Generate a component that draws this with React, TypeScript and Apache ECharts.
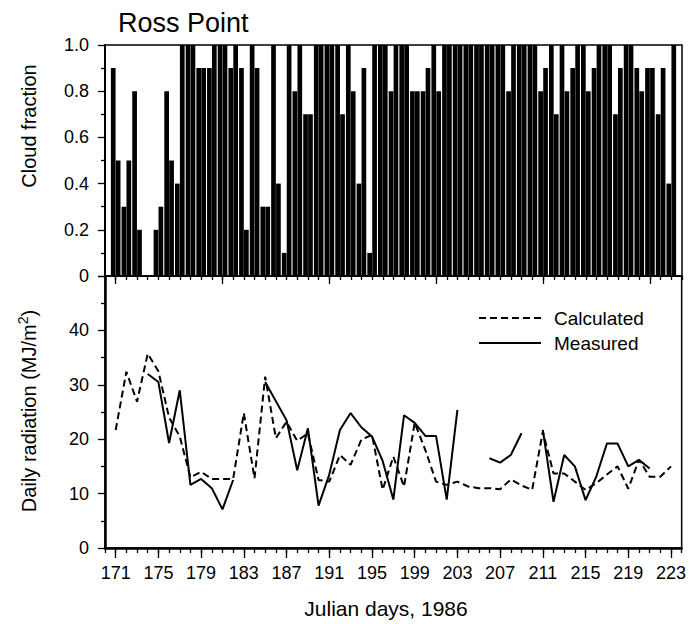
import React, { useEffect, useRef } from 'react';
import * as echarts from 'echarts';

// Julian days shown (one entry per day)
const days = [
  171, 172, 173, 174, 175, 176, 177, 178, 179, 180,
  181, 182, 183, 184, 185, 186, 187, 188, 189, 190,
  191, 192, 193, 194, 195, 196, 197, 198, 199, 200,
  201, 202, 203, 204, 205, 206, 207, 208, 209, 210,
  211, 212, 213, 214, 215, 216, 217, 218, 219, 220,
  221, 222, 223,
];

// Cloud fraction: two observations per day (first half, second half)
const cloudFirst = [
  0.9, 0.3, 0.8, 0.0, 0.2, 0.8, 0.4, 1.0, 0.9, 0.9,
  1.0, 0.9, 0.9, 1.0, 0.3, 1.0, 0.1, 0.8, 0.7, 1.0,
  1.0, 1.0, 1.0, 0.4, 0.1, 1.0, 0.8, 1.0, 0.8, 0.8,
  1.0, 1.0, 1.0, 1.0, 1.0, 1.0, 1.0, 0.8, 1.0, 1.0,
  0.8, 1.0, 1.0, 0.9, 1.0, 0.9, 1.0, 0.7, 1.0, 0.9,
  0.9, 0.7, 0.4,
];
const cloudSecond = [
  0.5, 0.5, 0.2, 0.0, 0.3, 0.5, 1.0, 1.0, 0.9, 1.0,
  1.0, 1.0, 0.2, 0.9, 0.3, 0.4, 1.0, 1.0, 0.7, 1.0,
  1.0, 0.7, 0.8, 0.9, 1.0, 1.0, 1.0, 1.0, 0.8, 0.9,
  0.8, 1.0, 1.0, 1.0, 1.0, 1.0, 1.0, 1.0, 1.0, 1.0,
  0.9, 0.7, 0.8, 1.0, 0.8, 1.0, 1.0, 0.9, 1.0, 0.8,
  0.9, 0.9, 1.0,
];

// Daily radiation (MJ/m2)
const calculated = [
  21.7, 32.4, 26.9, 35.7, 32.5, 24.0, 20.5, 13.0, 14.0, 12.7,
  12.7, 12.7, 24.8, 12.8, 31.5, 20.2, 23.2, 19.7, 21.1, 12.5,
  12.2, 17.1, 15.3, 19.9, 20.8, 10.7, 16.8, 11.3, 23.0, 18.0,
  12.2, 11.6, 12.2, 11.3, 11.0, 11.0, 10.8, 12.6, 11.5, 10.7,
  21.4, 13.7, 13.7, 12.2, 10.7, 11.9, 13.5, 15.0, 10.9, 16.2,
  13.1, 13.1, 15.0,
];
const measured: (number | null)[] = [
  null, null, null, 32.0, 30.5, 19.3, 29.0, 11.6, 12.7, 11.0,
  7.1, 12.5, null, null, 30.5, 27.0, 23.5, 14.3, 22.0, 7.8,
  13.5, 21.7, 24.8, 22.2, 20.5, 16.0, 8.9, 24.4, 23.0, 20.6,
  20.6, 8.9, 25.4, null, null, 16.5, 15.7, 17.1, 21.1, null,
  21.7, 8.5, 17.1, 15.0, 8.8, 13.1, 19.2, 19.2, 15.0, 16.2,
  14.6, null, null,
];

// Tick positions
const bottomTickDays = [171, 175, 179, 183, 187, 191, 195, 199, 203, 207, 211, 215, 219, 223];
const topMajorTickDays = [171, 181, 191, 201, 211, 221];

const FONT = '"Liberation Sans", Arial, Helvetica, sans-serif';

export default function App() {
  const ref = useRef<HTMLDivElement>(null);

  useEffect(() => {
    if (!ref.current) return;
    const chart = echarts.init(ref.current, undefined, { renderer: 'svg' });

    const barData: number[][] = [];
    days.forEach((d, i) => {
      barData.push([d - 0.23, cloudFirst[i]]);
      barData.push([d + 0.23, cloudSecond[i]]);
    });
    const calcData = days.map((d, i) => [d, calculated[i]]);
    const measData = days.map((d, i) => [d, measured[i] === null ? '-' : measured[i]]);

    const tickLine = { color: '#000', width: 1.3 };
    const labelStyle = { fontSize: 18, fontFamily: FONT, color: '#000' };

    const option: any = {
      animation: false,
      grid: [
        { left: 105, top: 45, width: 577, height: 231, show: true, borderColor: '#000', borderWidth: 1.5, backgroundColor: 'transparent' },
        { left: 105, top: 276, width: 577, height: 272, show: true, borderColor: '#000', borderWidth: 1.5, backgroundColor: 'transparent' },
      ],
      xAxis: [
        {
          gridIndex: 0, type: 'value', position: 'bottom', min: 170, max: 224, interval: 1,
          axisLine: { show: true, onZero: false, lineStyle: { color: '#000', width: 1.5 } },
          axisTick: { show: true, length: 4, lineStyle: tickLine },
          axisLabel: { show: false }, splitLine: { show: false },
        },
        {
          gridIndex: 0, type: 'value', position: 'bottom', min: 170, max: 224,
          axisLine: { show: false, onZero: false },
          axisTick: { show: true, length: 8, customValues: topMajorTickDays, lineStyle: tickLine },
          axisLabel: { show: false }, splitLine: { show: false },
        },
        {
          gridIndex: 1, type: 'value', position: 'bottom', min: 170, max: 224, interval: 1,
          axisLine: { show: true, onZero: false, lineStyle: { color: '#000', width: 2.5 } },
          axisTick: { show: true, length: 5, lineStyle: tickLine },
          axisLabel: { show: false }, splitLine: { show: false },
        },
        {
          gridIndex: 1, type: 'value', position: 'bottom', min: 170, max: 224,
          axisLine: { show: false, onZero: false },
          axisTick: { show: true, length: 10, customValues: bottomTickDays, lineStyle: tickLine },
          axisLabel: { show: true, customValues: bottomTickDays, margin: 16, ...labelStyle },
          splitLine: { show: false },
        },
      ],
      yAxis: [
        {
          gridIndex: 0, type: 'value', position: 'left', min: 0, max: 1, interval: 0.2,
          axisLine: { show: true, onZero: false, lineStyle: { color: '#000', width: 2 } },
          axisTick: { show: true, length: 7, lineStyle: tickLine },
          minorTick: { show: true, splitNumber: 2, length: 4, lineStyle: tickLine },
          axisLabel: { margin: 16, ...labelStyle, formatter: (v: number) => (v === 0 ? '0' : v.toFixed(1)) },
          splitLine: { show: false }, minorSplitLine: { show: false },
        },
        {
          gridIndex: 1, type: 'value', position: 'left', min: 0, max: 50, interval: 10,
          axisLine: { show: true, onZero: false, lineStyle: { color: '#000', width: 2.5 } },
          axisTick: { show: true, length: 7, lineStyle: tickLine },
          minorTick: { show: true, splitNumber: 2, length: 4, lineStyle: tickLine },
          axisLabel: { margin: 16, ...labelStyle, formatter: (v: number) => (v === 50 ? '' : String(v)) },
          splitLine: { show: false }, minorSplitLine: { show: false },
        },
      ],
      series: [
        {
          type: 'bar', name: 'Cloud fraction', xAxisIndex: 0, yAxisIndex: 0,
          data: barData, barWidth: 4.7, itemStyle: { color: '#000' }, silent: true,
        },
        {
          type: 'line', name: 'Calculated', xAxisIndex: 2, yAxisIndex: 1,
          data: calcData, symbol: 'none', silent: true,
          lineStyle: { color: '#000', width: 2, type: [7, 4] },
        },
        {
          type: 'line', name: 'Measured', xAxisIndex: 2, yAxisIndex: 1,
          data: measData, symbol: 'none', connectNulls: false, silent: true,
          lineStyle: { color: '#000', width: 2 },
        },
      ],
      graphic: [
        {
          type: 'text', x: 118, y: 23,
          style: { text: 'Ross Point', fontSize: 27, fontFamily: FONT, fill: '#000', align: 'left', verticalAlign: 'middle', textAlign: 'left', textVerticalAlign: 'middle' },
        },
        {
          type: 'text', x: 29, y: 126, rotation: Math.PI / 2,
          style: { text: 'Cloud fraction', fontSize: 20, fontFamily: FONT, fill: '#000', align: 'center', verticalAlign: 'middle', textAlign: 'center', textVerticalAlign: 'middle' },
        },
        {
          type: 'text', x: 29, y: 411, rotation: Math.PI / 2,
          style: {
            text: '{a|Daily radiation (MJ/m}{b|2}{a|)}',
            rich: {
              a: { fontSize: 20, fontFamily: FONT, fill: '#000', color: '#000' },
              b: { fontSize: 14, fontFamily: FONT, fill: '#000', color: '#000', padding: [0, 0, 12, 0] },
            },
            fill: '#000', align: 'center', verticalAlign: 'middle', textAlign: 'center', textVerticalAlign: 'middle',
          },
        },
        {
          type: 'text', x: 386, y: 608,
          style: { text: 'Julian days, 1986', fontSize: 21, fontFamily: FONT, fill: '#000', align: 'center', verticalAlign: 'middle', textAlign: 'center', textVerticalAlign: 'middle' },
        },
        {
          type: 'line', shape: { x1: 479, y1: 318, x2: 541, y2: 318 },
          style: { stroke: '#000', lineWidth: 2, lineDash: [7, 4] },
        },
        {
          type: 'line', shape: { x1: 479, y1: 343, x2: 541, y2: 343 },
          style: { stroke: '#000', lineWidth: 2 },
        },
        {
          type: 'text', x: 554, y: 318,
          style: { text: 'Calculated', fontSize: 19, fontFamily: FONT, fill: '#000', align: 'left', verticalAlign: 'middle', textAlign: 'left', textVerticalAlign: 'middle' },
        },
        {
          type: 'text', x: 554, y: 343,
          style: { text: 'Measured', fontSize: 19, fontFamily: FONT, fill: '#000', align: 'left', verticalAlign: 'middle', textAlign: 'left', textVerticalAlign: 'middle' },
        },
      ],
    };

    chart.setOption(option);
    return () => chart.dispose();
  }, []);

  return <div ref={ref} style={{ position: 'absolute', left: 0, top: 0, width: 689, height: 624 }} />;
}
